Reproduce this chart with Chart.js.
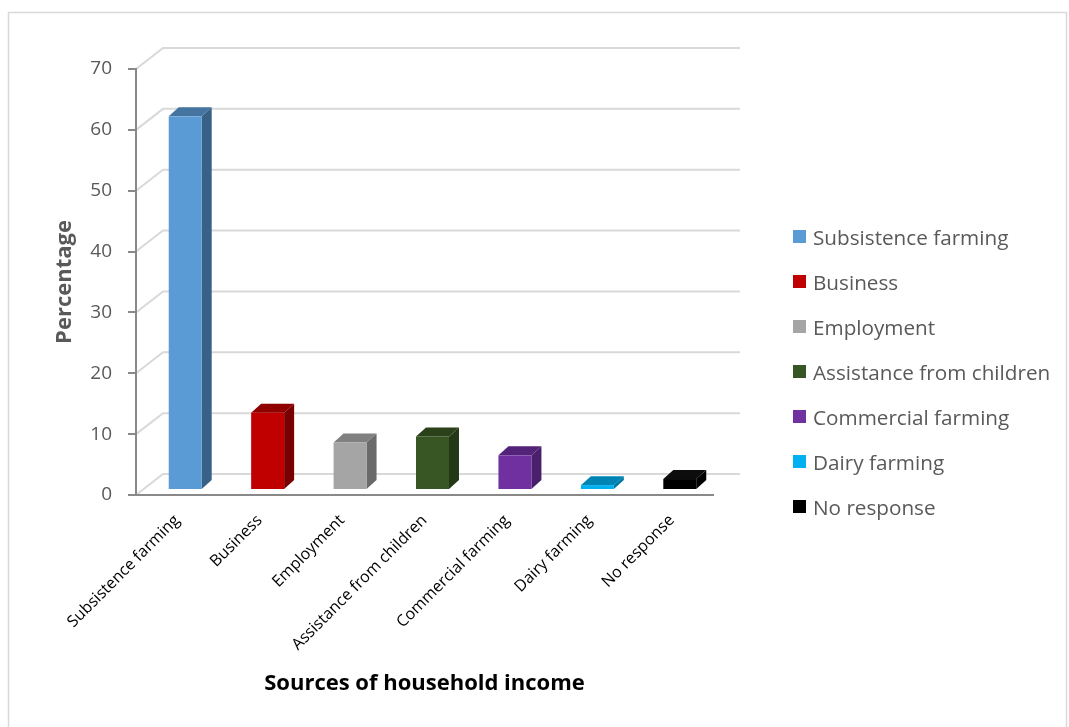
<!DOCTYPE html>
<html lang="en">
<head>
<meta charset="utf-8">
<title>Sources of household income</title>
<script src="https://cdn.jsdelivr.net/npm/chart.js@4.4.1/dist/chart.umd.min.js"></script>
<style>
    body { margin: 0; background: #fff; }
    #chartWrap { position: relative; width: 1069px; height: 727px; }
    #incomeChart { display: block; }
    #legend {
        position: absolute; left: 793px; top: 214px;
        margin: 0; padding: 0; list-style: none;
        font-family: 'Open Sans', sans-serif; font-size: 20.7px; color: #595959;
    }
    #legend li { display: flex; align-items: center; height: 45px; white-space: nowrap; }
    #legend .swatch { width: 13px; height: 13px; margin-right: 7px; flex: none; }
</style>
</head>
<body>
<div id="chartWrap">
    <canvas id="incomeChart" width="1069" height="727"></canvas>
    <ul id="legend"></ul>
</div>
<script>
// Household income sources (% of respondents)
const sources = ['Subsistence farming', 'Business', 'Employment', 'Assistance from children',
                 'Commercial farming', 'Dairy farming', 'No response'];
const percentages = [61.4, 12.7, 7.8, 8.8, 5.7, 0.8, 1.8];

// face colours for each column: front, right side, top
const frontColors = ['#5b9bd5', '#c00000', '#a5a5a5', '#375623', '#7030a0', '#00b0f0', '#000000'];
const sideColors  = ['#386186', '#780000', '#6a6a6a', '#233816', '#4a1f6b', '#0077a3', '#000000'];
const topColors   = ['#44749f', '#8f0000', '#808080', '#2a4119', '#53237a', '#0084b4', '#0d0d0d'];

const yMax = 70;
const yStep = 10;

// 3D look: wall depth, column offset from the front plane, column depth
const WALL = { dx: 27, dy: -21 };
const COL_FRONT = { dx: 8, dy: -5 };
const COL_DEPTH = { dx: 10, dy: -9 };

const FONT = 'Open Sans';

// white background and light grey frame
const chartFrame = {
    id: 'chartFrame',
    beforeDraw(chart) {
        const ctx = chart.ctx;
        ctx.save();
        ctx.fillStyle = '#fff';
        ctx.fillRect(0, 0, chart.width, chart.height);
        ctx.strokeStyle = '#d9d9d9';
        ctx.lineWidth = 1.5;
        ctx.strokeRect(8.5, 12.5, chart.width - 11, chart.height + 20);
        ctx.restore();
    }
};

// side wall and back wall gridlines at every y tick
const walls = {
    id: 'walls',
    beforeDraw(chart) {
        const { ctx, chartArea, scales: { y } } = chart;
        ctx.save();
        ctx.strokeStyle = '#d9d9d9';
        ctx.lineWidth = 2;
        y.ticks.forEach(t => {
            const py = y.getPixelForValue(t.value);
            ctx.beginPath();
            ctx.moveTo(chartArea.left, py);
            ctx.lineTo(chartArea.left + WALL.dx, py + WALL.dy);
            ctx.lineTo(chartArea.right + WALL.dx, py + WALL.dy);
            ctx.stroke();
        });
        ctx.restore();
    }
};

// draw each bar element as a box with front, side and top faces
const bars3d = {
    id: 'bars3d',
    beforeDatasetDraw(chart, args) {
        const ctx = chart.ctx;
        ctx.save();
        args.meta.data.forEach((bar, i) => {
            const l = bar.x - bar.width / 2 + COL_FRONT.dx;
            const r = l + bar.width;
            const top = bar.y + COL_FRONT.dy;
            const bottom = bar.base + COL_FRONT.dy;
            const dx = COL_DEPTH.dx, dy = COL_DEPTH.dy;

            ctx.fillStyle = sideColors[i];
            ctx.beginPath();
            ctx.moveTo(r, bottom);
            ctx.lineTo(r + dx, bottom + dy);
            ctx.lineTo(r + dx, top + dy);
            ctx.lineTo(r, top);
            ctx.closePath();
            ctx.fill();

            ctx.fillStyle = topColors[i];
            ctx.beginPath();
            ctx.moveTo(l, top);
            ctx.lineTo(l + dx, top + dy);
            ctx.lineTo(r + dx, top + dy);
            ctx.lineTo(r, top);
            ctx.closePath();
            ctx.fill();

            ctx.fillStyle = frontColors[i];
            ctx.fillRect(l, top, r - l, bottom - top);
        });
        ctx.restore();
        return false;
    }
};

// legend list next to the canvas, one entry per category
const htmlLegend = {
    id: 'htmlLegend',
    afterUpdate(chart) {
        const list = document.getElementById('legend');
        list.innerHTML = '';
        const ds = chart.data.datasets[0];
        chart.data.labels.forEach((label, i) => {
            const li = document.createElement('li');
            const box = document.createElement('span');
            box.className = 'swatch';
            box.style.background = ds.backgroundColor[i];
            li.appendChild(box);
            li.appendChild(document.createTextNode(label));
            list.appendChild(li);
        });
    }
};

new Chart(document.getElementById('incomeChart'), {
    type: 'bar',
    data: {
        labels: sources,
        datasets: [{
            label: 'Percentage',
            data: percentages,
            backgroundColor: frontColors,
            barPercentage: 0.4,
            categoryPercentage: 1
        }]
    },
    options: {
        responsive: false,
        animation: false,
        devicePixelRatio: 1,
        events: [],
        layout: { padding: { left: 40, top: 69, right: 356, bottom: 10 } },
        plugins: {
            legend: { display: false },
            tooltip: { enabled: false }
        },
        scales: {
            x: {
                grid: { display: false },
                border: { display: true, color: '#898989', width: 2 },
                ticks: {
                    color: '#000',
                    font: { family: FONT, size: 16 },
                    minRotation: 45,
                    maxRotation: 45,
                    autoSkip: false,
                    padding: 8
                },
                title: {
                    display: true,
                    text: 'Sources of household income',
                    color: '#000',
                    font: { family: FONT, size: 22, weight: 'bold' },
                    padding: { top: 0, bottom: 20 }
                },
                afterFit(scale) { scale.height = 222; }
            },
            y: {
                min: 0,
                max: yMax,
                ticks: {
                    stepSize: yStep,
                    color: '#595959',
                    font: { family: FONT, size: 19 },
                    padding: 16
                },
                grid: { drawOnChartArea: false, tickLength: 8, color: '#898989', lineWidth: 2 },
                border: { color: '#898989', width: 2 },
                title: {
                    display: true,
                    text: 'Percentage',
                    color: '#595959',
                    font: { family: FONT, size: 22, weight: 'bold' },
                    padding: { top: 12, bottom: 0 }
                },
                afterFit(scale) { scale.width = 96; }
            }
        }
    },
    plugins: [chartFrame, walls, bars3d, htmlLegend]
});
</script>
</body>
</html>
